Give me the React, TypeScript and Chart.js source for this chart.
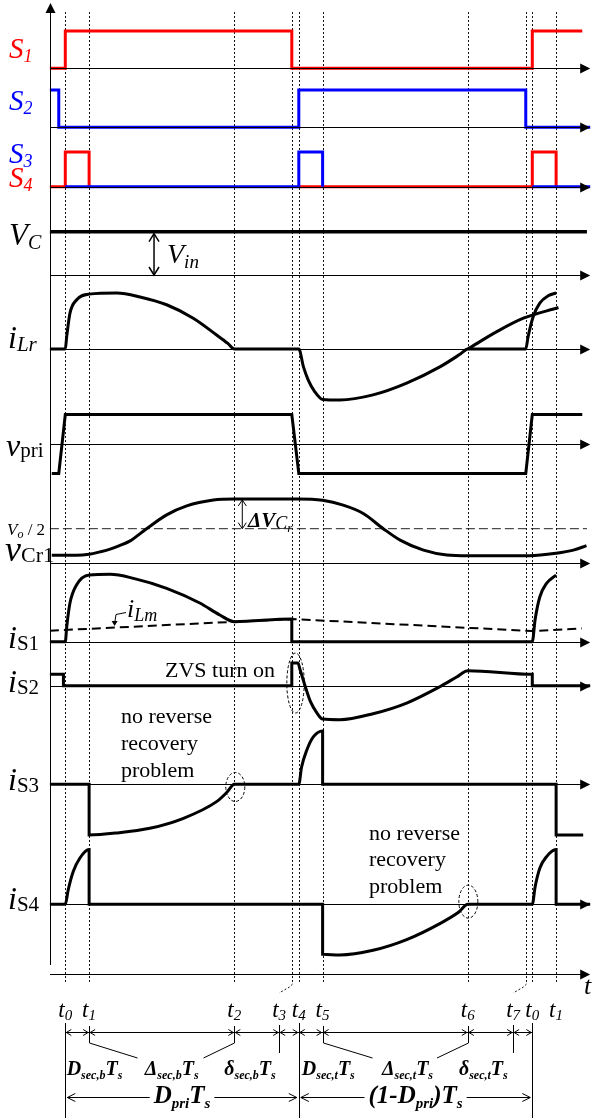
import React, { useEffect, useRef } from "react";
import { Chart, registerables } from "chart.js";

Chart.register(...registerables);

// ---------------- time instants (percent of the switching period Ts) ----------------
const T0 = 0, T1 = 5.1, T2 = 36.2, T3 = 48.5, T4 = 50, T5 = 55.1, T6 = 86.2, T7 = 98.6, T0B = 100, T1B = 105.1;
const T_START = -3.3;
const T_END = 112.4;
const T3L = 45.8; // where the t3 label sits
const T7L = 95.9; // where the t7 label sits
const TIME_MARKS = [T0, T1, T2, T3, T4, T5, T6, T7, T0B, T1B];
const TIME_LABEL_POS = [T0, T1, T2, T3L, T4, T5, T6, T7L, T0B, T1B];
const TIME_SUBS = ["0", "1", "2", "3", "4", "5", "6", "7", "0", "1"];

type P = [number, number] | null;

// ---------------- gate signals (0 = off, 1 = on) ----------------
const s1Pts: P[] = [[T_START, 0], [T0, 0], [T0, 1], [T3, 1], [T3, 0], [T0B, 0], [T0B, 1], [110.7, 1]];
const s2Pts: P[] = [[T_START, 1], [-1.4, 1], [-1.4, 0], [T4, 0], [T4, 1], [T7, 1], [T7, 0], [T_END, 0]];
const s3Pts: P[] = [[T0, 0], [T4, 0], [T4, 1], [T5, 1], [T5, 0], null, [T0B, 0], [T_END, 0]];
const s4Pts: P[] = [[T_START, 0], [T0, 0], [T0, 1], [T1, 1], [T1, 0], null, [T4, 0], [T0B, 0], [T0B, 1], [T1B, 1], [T1B, 0]];

// ---------------- input capacitor voltage ----------------
const vcPts: P[] = [[T_START, 1], [111.7, 1]];

// ---------------- resonant inductor current (normalised) ----------------
const iLrPts: P[] = [
  [T_START, 0], [T0, 0], [0.3, 0.22], [1.0, 0.64], [2.4, 0.875], [T1, 0.98], [11.0, 1.0], [16.0, 0.93],
  [21.7, 0.79], [27.4, 0.55], [32.4, 0.25], [34.8, 0.1], [T2, 0], [T4, 0], [51.0, -0.32], [52.0, -0.55],
  [53.4, -0.76], [T5, -0.9], [58.8, -0.91], [65.9, -0.82], [73.1, -0.61], [80.2, -0.32], [84.6, -0.09],
  [T6, 0], [T7, 0], [99.1, 0.22], [100.2, 0.58], [101.6, 0.82], [103.4, 0.95], [T1B, 1.0],
];
const iLrTailPts: P[] = [[T6, 0], [92.4, 0.31], [98.1, 0.55], [105.6, 0.74]];

// ---------------- primary voltage ----------------
const vpriPts: P[] = [[-2.9, -1], [-1.4, -1], [T0, 1], [T3, 1], [T4, -1], [T7, -1], [T0B, 1], [110.7, 1]];

// ---------------- resonant capacitor voltage (Vo/2 = 1) ----------------
const vcrPts: P[] = [
  [-2.9, 0.23], [2.4, 0.23], [T1, 0.26], [7.4, 0.33], [9.6, 0.41], [11.6, 0.51], [13.8, 0.64], [17.4, 1.0],
  [21.7, 1.4], [26.0, 1.66], [31.7, 1.83], [T2, 1.86], [T4, 1.86], [T5, 1.82], [59.5, 1.68], [63.8, 1.44],
  [68.1, 1.0], [71.7, 0.67], [76.7, 0.38], [81.7, 0.24], [T6, 0.22], [99.4, 0.22], [T1B, 0.29], [108.8, 0.38],
  [111.6, 0.51],
];
const vo2Pts: P[] = [[T_START, 1], [111.7, 1]];

// ---------------- switch currents (normalised) ----------------
const iS1Pts: P[] = [
  [T_START, 0], [T0, 0], [0.3, 0.22], [1.0, 0.58], [2.4, 0.85], [T1, 1.0], [9.6, 1.01], [14.6, 0.95],
  [21.7, 0.8], [28.8, 0.58], [33.1, 0.4], [T2, 0.3], [T3, 0.34], [T3, 0], [T0B, 0], [100.6, 0.33],
  [101.6, 0.67], [103.0, 0.87], [T1B, 1.0],
];
const iLmPts: P[] = [[T_START, 0.165], [T3, 0.34], [T0B, 0.16], [110.6, 0.2]];
const iS2Pts: P[] = [
  [T_START, 0.17], [-0.4, 0.17], [-0.4, 0], [T3, 0], [T3, 0.34], [49.8, 0.34], [50.3, 0.235], [51.4, -0.015],
  [52.5, -0.24], [53.9, -0.41], [T5, -0.5], [58.8, -0.51], [65.9, -0.42], [73.1, -0.26], [80.2, -0.015],
  [83.8, 0.13], [T6, 0.225], [T0B, 0.17], [T0B, 0], [T_END, 0],
];
const iS3Pts: P[] = [
  [T_START, 0], [T1, 0], [T1, -0.76], [11.0, -0.73], [18.1, -0.66], [25.3, -0.51], [32.4, -0.26], [34.6, -0.12],
  [T2, 0], [T4, 0], [50.6, 0.26], [51.7, 0.51], [53.1, 0.71], [T5, 0.8], [T5, 0], [T1B, 0], [T1B, -0.76], [110.9, -0.76],
];
const iS4Pts: P[] = [
  [T_START, 0], [T0, 0], [0.6, 0.21], [1.7, 0.49], [3.1, 0.69], [T1, 0.82], [T1, 0], [T5, 0], [T5, -0.75],
  [58.8, -0.76], [65.9, -0.69], [73.1, -0.53], [80.2, -0.29], [84.2, -0.12], [T6, 0], [T0B, 0], [100.6, 0.26],
  [101.6, 0.54], [103.0, 0.71], [T1B, 0.82], [T1B, 0], [T_END, 0],
];

// ---------------- layout (pixels) ----------------
const W = 594, H = 1118;
const X_T0_PX = 65.3;
const PX_PER_T = 4.67;
const LANES: Record<string, { base: number; amp: number }> = {
  s1: { base: 68.3, amp: 37.3 },
  s2: { base: 127.3, amp: 37.3 },
  s34: { base: 186.7, amp: 34.7 },
  vc: { base: 275, amp: 43.3 },
  iLr: { base: 349, amp: 56 },
  vpri: { base: 444, amp: 29.5 },
  vcr: { base: 563.3, amp: 34.6 },
  iS1: { base: 641.7, amp: 66.7 },
  iS2: { base: 685.7, amp: 66.7 },
  iS3: { base: 784.3, amp: 66.7 },
  iS4: { base: 904.3, amp: 66.7 },
};
const T_AXIS_Y = 974;
const Y_AXIS_TOP = 3, Y_AXIS_BOTTOM = 965;
const MARK_TOP = 12, MARK_BOTTOM = 984;
const DIM_Y = 1032, DIM2_Y = 1097, DIM_LABEL_Y = 1075, TLABEL_Y = 1017;

const RED = "#ff0000", BLUE = "#0000ff", INK = "#000000";
const SERIF = '"Liberation Serif", "Times New Roman", serif';
const fnt = (style: string, size: number) => `${style} ${size}px ${SERIF}`;

type Part = [string, string, number, number?]; // text, style, size, dy
type Label = { x: number; y: number; color?: string; parts: Part[]; align?: "left" | "center" };

const LEFT_LABELS: Label[] = [
  { x: 9, y: 58, color: RED, parts: [["S", "italic", 29], ["1", "italic", 18, 4]] },
  { x: 9, y: 110, color: BLUE, parts: [["S", "italic", 29], ["2", "italic", 18, 4]] },
  { x: 9, y: 163, color: BLUE, parts: [["S", "italic", 29], ["3", "italic", 18, 4]] },
  { x: 9, y: 187, color: RED, parts: [["S", "italic", 29], ["4", "italic", 18, 4]] },
  { x: 9, y: 245, parts: [["V", "italic", 31], ["C", "italic", 20, 4]] },
  { x: 167, y: 263, parts: [["V", "italic", 28], ["in", "italic", 19, 5]] },
  { x: 8, y: 348, parts: [["i", "italic", 32], ["Lr", "italic", 21, 3]] },
  { x: 6, y: 456, parts: [["v", "italic", 32], ["pri", "normal", 21, 1]] },
  { x: 7, y: 535, parts: [["V", "italic", 17], ["o", "italic", 12, 3], [" / 2", "normal", 17]] },
  { x: 5, y: 561, parts: [["v", "italic", 36], ["Cr1", "normal", 22, 1]] },
  { x: 248, y: 527, parts: [["\u0394V", "bold italic", 21], ["C", "italic", 18, 2], ["r", "italic", 13, 5]] },
  { x: 8, y: 648, parts: [["i", "italic", 32], ["S1", "normal", 21, 2]] },
  { x: 127, y: 617, parts: [["i", "italic", 26], ["Lm", "italic", 18, 4]] },
  { x: 8, y: 692, parts: [["i", "italic", 32], ["S2", "normal", 21, 2]] },
  { x: 8, y: 790, parts: [["i", "italic", 32], ["S3", "normal", 21, 2]] },
  { x: 8, y: 909, parts: [["i", "italic", 32], ["S4", "normal", 21, 2]] },
  { x: 165, y: 677, parts: [["ZVS turn on", "normal", 22]] },
  { x: 121, y: 723, parts: [["no reverse", "normal", 22]] },
  { x: 121, y: 750, parts: [["recovery", "normal", 22]] },
  { x: 121, y: 777, parts: [["problem", "normal", 22]] },
  { x: 369, y: 840, parts: [["no reverse", "normal", 22]] },
  { x: 369, y: 866, parts: [["recovery", "normal", 22]] },
  { x: 369, y: 893, parts: [["problem", "normal", 22]] },
  { x: 584, y: 994, parts: [["t", "italic", 26]] },
];

const DIM_LABELS: Label[] = [
  { x: 94.5, y: DIM_LABEL_Y, align: "center", parts: [["D", "bold italic", 20], ["sec,b", "bold italic", 12, 4], ["T", "bold italic", 20], ["s", "bold italic", 12, 4]] },
  { x: 171.7, y: DIM_LABEL_Y, align: "center", parts: [["\u0394", "bold italic", 20], ["sec,b", "bold italic", 12, 4], ["T", "bold italic", 20], ["s", "bold italic", 12, 4]] },
  { x: 250, y: DIM_LABEL_Y, align: "center", parts: [["\u03b4", "bold italic", 20], ["sec,b", "bold italic", 12, 4], ["T", "bold italic", 20], ["s", "bold italic", 12, 4]] },
  { x: 328.3, y: DIM_LABEL_Y, align: "center", parts: [["D", "bold italic", 20], ["sec,t", "bold italic", 12, 4], ["T", "bold italic", 20], ["s", "bold italic", 12, 4]] },
  { x: 407.5, y: DIM_LABEL_Y, align: "center", parts: [["\u0394", "bold italic", 20], ["sec,t", "bold italic", 12, 4], ["T", "bold italic", 20], ["s", "bold italic", 12, 4]] },
  { x: 483.3, y: DIM_LABEL_Y, align: "center", parts: [["\u03b4", "bold italic", 20], ["sec,t", "bold italic", 12, 4], ["T", "bold italic", 20], ["s", "bold italic", 12, 4]] },
];
const PRI_LABEL: Part[] = [["D", "bold italic", 25], ["pri", "bold italic", 15, 5], ["T", "bold italic", 25], ["s", "bold italic", 15, 5]];
const NPRI_LABEL: Part[] = [["(1-D", "bold italic", 25], ["pri", "bold italic", 15, 5], [")T", "bold italic", 25], ["s", "bold italic", 15, 5]];

// ---------------- drawing helpers ----------------
function measure(ctx: CanvasRenderingContext2D, parts: Part[]) {
  let w = 0;
  for (const [t, st, sz] of parts) {
    ctx.font = fnt(st, sz);
    w += ctx.measureText(t).width;
  }
  return w;
}
function rich(ctx: CanvasRenderingContext2D, x: number, y: number, parts: Part[], color = INK, align = "left") {
  ctx.fillStyle = color;
  ctx.textBaseline = "alphabetic";
  ctx.textAlign = "left";
  let cx = align === "center" ? x - measure(ctx, parts) / 2 : x;
  for (const [t, st, sz, dy] of parts) {
    ctx.font = fnt(st, sz);
    ctx.fillText(t, cx, y + (dy || 0));
    cx += ctx.measureText(t).width;
  }
}
function seg(ctx: CanvasRenderingContext2D, x1: number, y1: number, x2: number, y2: number) {
  ctx.beginPath();
  ctx.moveTo(x1, y1);
  ctx.lineTo(x2, y2);
  ctx.stroke();
}
function head(ctx: CanvasRenderingContext2D, tx: number, ty: number, dx: number, dy: number, len: number, half: number, filled: boolean) {
  const px = -dy, py = dx;
  const bx = tx - dx * len, by = ty - dy * len;
  ctx.beginPath();
  ctx.moveTo(bx + px * half, by + py * half);
  ctx.lineTo(tx, ty);
  ctx.lineTo(bx - px * half, by - py * half);
  if (filled) {
    ctx.closePath();
    ctx.fill();
  } else {
    ctx.stroke();
  }
}

const overlay = {
  id: "overlay",
  beforeDatasetsDraw(chart: any) {
    const ctx: CanvasRenderingContext2D = chart.ctx;
    const xs = chart.scales.x;
    const px = (t: number) => xs.getPixelForValue(t);
    ctx.save();
    ctx.strokeStyle = "#111";
    ctx.lineWidth = 1;
    ctx.setLineDash([2, 2]);
    for (const t of TIME_MARKS) {
      const x = Math.round(px(t)) + 0.5;
      seg(ctx, x, MARK_TOP, x, MARK_BOTTOM);
    }
    // slanted leaders from t3 / t7 to their labels
    for (const [a, b] of [[T3, T3L], [T7, T7L]]) {
      const xa = Math.round(px(a)) + 0.5;
      ctx.beginPath();
      ctx.moveTo(xa, MARK_BOTTOM);
      ctx.lineTo(xa - 3, MARK_BOTTOM + 3);
      ctx.lineTo(px(b), MARK_BOTTOM + 9);
      ctx.stroke();
    }
    ctx.restore();
  },
  afterDatasetsDraw(chart: any) {
    const ctx: CanvasRenderingContext2D = chart.ctx;
    const xs = chart.scales.x;
    const px = (t: number) => xs.getPixelForValue(t);
    const py = (lane: string, v: number) => chart.scales[lane].getPixelForValue(v);
    ctx.save();
    ctx.strokeStyle = INK;
    ctx.fillStyle = INK;
    ctx.lineWidth = 1;
    ctx.setLineDash([]);

    // horizontal axes with arrows
    const xL = Math.round(px(T_START));
    const xR = px(T_END);
    const axisYs = Object.keys(LANES).map((k) => py(k, 0)).concat([T_AXIS_Y]);
    for (const y0 of axisYs) {
      const y = Math.round(y0) + 0.5;
      seg(ctx, xL, y, xR - 8, y);
      head(ctx, xR, y, 1, 0, 10, 5, true);
    }
    // vertical axis
    seg(ctx, xL + 0.5, Y_AXIS_TOP + 8, xL + 0.5, Y_AXIS_BOTTOM);
    head(ctx, xL + 0.5, Y_AXIS_TOP, 0, -1, 10, 5, true);

    // Vin double arrow
    {
      const x = px(19.0);
      const ya = py("vc", 1) + 2, yb = py("vc", 0);
      ctx.lineWidth = 1.5;
      seg(ctx, x, ya, x, yb);
      head(ctx, x, ya, 0, -1, 8, 5, false);
      head(ctx, x, yb, 0, 1, 8, 5, false);
      ctx.lineWidth = 1;
    }
    // delta VCr double arrow
    {
      const x = px(37.9);
      const ya = py("vcr", 1.86) + 1, yb = py("vcr", 1);
      seg(ctx, x, ya, x, yb);
      head(ctx, x, ya, 0, -1, 6, 4, false);
      head(ctx, x, yb, 0, 1, 6, 4, false);
    }
    // iLm pointer
    {
      ctx.beginPath();
      ctx.moveTo(126, 612.5);
      ctx.lineTo(116, 614.5);
      ctx.lineTo(115, 621);
      ctx.stroke();
      head(ctx, 114.6, 626, 0, 1, 5, 3, true);
    }
    // dashed ellipses
    ctx.setLineDash([3, 2]);
    const ell = (t: number, lane: string, v: number, rx: number, ry: number) => {
      ctx.beginPath();
      ctx.ellipse(px(t), py(lane, v), rx, ry, 0, 0, Math.PI * 2);
      ctx.stroke();
    };
    ell(49.3, "iS2", 0.04, 8.7, 30);
    ell(36.4, "iS3", -0.04, 9.5, 14.5);
    ell(86.3, "iS4", 0.04, 9.5, 16.5);
    ctx.setLineDash([]);

    // text labels
    for (const l of LEFT_LABELS) rich(ctx, l.x, l.y, l.parts, l.color || INK, l.align || "left");

    // time labels
    TIME_LABEL_POS.forEach((t, i) => {
      rich(ctx, px(t) - 7, TLABEL_Y, [["t", "italic", 23], [TIME_SUBS[i], "italic", 15, 3]]);
    });

    // dimension line with segment arrows
    const dimT = [T0, T1, T2, T3L, T4, T5, T6, T7L, T0B];
    const dy = DIM_Y + 0.5;
    seg(ctx, px(T0), dy, px(T0B), dy);
    for (let i = 0; i < dimT.length - 1; i++) {
      head(ctx, px(dimT[i]) + 1, dy, -1, 0, 5, 3, false);
      head(ctx, px(dimT[i + 1]) - 1, dy, 1, 0, 5, 3, false);
    }
    for (const t of [T1, T2, T5, T6]) {
      const x = Math.round(px(t)) + 0.5;
      seg(ctx, x, DIM_Y - 6, x, DIM_Y + 11);
    }
    for (const t of [T3L, T7L]) {
      const x = Math.round(px(t)) + 0.5;
      seg(ctx, x, DIM_Y - 7, x, DIM_Y + 21);
    }
    for (const t of [T0, T4, T0B]) {
      const x = Math.round(px(t)) + 0.5;
      seg(ctx, x, DIM_Y - 9, x, H);
    }
    // leaders to the Delta labels
    const leader = (t: number, dx: number) => {
      const x = Math.round(px(t)) + 0.5;
      seg(ctx, x, DIM_Y + 11, x + dx, DIM_Y + 26);
    };
    leader(T1, 48);
    leader(T2, -31);
    leader(T5, 49);
    leader(T6, -31.5);
    for (const l of DIM_LABELS) rich(ctx, l.x, l.y, l.parts, INK, "center");

    // Dpri Ts and (1-Dpri) Ts spans
    const span = (a: number, b: number, parts: Part[]) => {
      const xa = px(a) + 2, xb = px(b) - 2;
      const c = (xa + xb) / 2;
      const w = measure(ctx, parts);
      const y = DIM2_Y + 0.5;
      seg(ctx, xa, y, c - w / 2 - 4, y);
      seg(ctx, c + w / 2 + 4, y, xb, y);
      head(ctx, xa, y, -1, 0, 8, 4, false);
      head(ctx, xb, y, 1, 0, 8, 4, false);
      rich(ctx, c, DIM2_Y + 6, parts, INK, "center");
    };
    span(T0, T4, PRI_LABEL);
    span(T4, T0B, NPRI_LABEL);

    ctx.restore();
  },
};

function toXY(pts: P[]) {
  let lastX = 0;
  return pts.map((p) => {
    if (!p) return { x: lastX, y: null };
    lastX = p[0];
    return { x: p[0], y: p[1] };
  });
}

function line(pts: P[], lane: string, extra: any = {}) {
  return {
    data: toXY(pts),
    yAxisID: lane,
    borderColor: INK,
    borderWidth: 3,
    pointRadius: 0,
    pointHoverRadius: 0,
    fill: false,
    tension: 0,
    spanGaps: false,
    borderJoinStyle: "miter",
    borderCapStyle: "butt",
    order: 0,
    ...extra,
  };
}
const curve = { cubicInterpolationMode: "monotone" };

export default function App() {
  const ref = useRef<HTMLCanvasElement>(null);
  useEffect(() => {
    const canvas = ref.current;
    if (!canvas) return;
    const scales: any = {
      x: { type: "linear", display: false, min: -X_T0_PX / PX_PER_T, max: (W - X_T0_PX) / PX_PER_T },
    };
    for (const [id, { base, amp }] of Object.entries(LANES)) {
      scales[id] = { type: "linear", display: false, min: (base - H) / amp, max: base / amp };
    }
    const datasets: any[] = [
      line(s1Pts, "s1", { borderColor: RED }),
      line(s2Pts, "s2", { borderColor: BLUE }),
      line(s4Pts, "s34", { borderColor: RED, order: 1 }),
      line(s3Pts, "s34", { borderColor: BLUE }),
      line(vcPts, "vc", { borderWidth: 3.5 }),
      line(iLrPts, "iLr", curve),
      line(iLrTailPts, "iLr", curve),
      line(vpriPts, "vpri"),
      line(vcrPts, "vcr", curve),
      line(vo2Pts, "vcr", { borderWidth: 1, borderDash: [9, 4], borderColor: "#222", order: 10 }),
      line(iS1Pts, "iS1", curve),
      line(iLmPts, "iS1", { borderWidth: 2, borderDash: [9, 5], order: 10 }),
      line(iS2Pts, "iS2", curve),
      line(iS3Pts, "iS3", curve),
      line(iS4Pts, "iS4", curve),
    ];
    const chart = new Chart(canvas, {
      type: "line",
      data: { datasets },
      options: {
        animation: false,
        responsive: false,
        maintainAspectRatio: false,
        devicePixelRatio: 1,
        events: [],
        layout: { padding: 0 },
        plugins: { legend: { display: false }, tooltip: { enabled: false } },
        scales,
      },
      plugins: [overlay],
    } as any);
    return () => chart.destroy();
  }, []);
  return (
    <div style={{ position: "absolute", left: 0, top: 0, width: W, height: H, background: "#fff" }}>
      <canvas ref={ref} width={W} height={H} style={{ display: "block", width: W, height: H }} />
    </div>
  );
}
